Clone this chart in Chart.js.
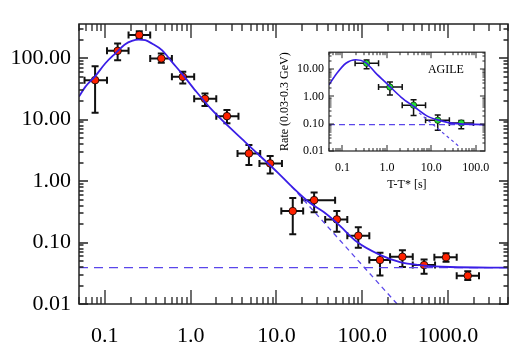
<!DOCTYPE html>
<html>
<head>
<meta charset="utf-8">
<script src="https://cdn.jsdelivr.net/npm/chart.js@4.4.1/dist/chart.umd.min.js"></script>
<style>
  body { margin: 0; background: #fff; }
  #wrap { position: relative; width: 531px; height: 354px; }
  #mainChart { position: absolute; left: 0; top: 0; }
  #agileChart { position: absolute; left: 260px; top: 40px; }
</style>
</head>
<body>
<div id="wrap">
  <canvas id="mainChart" width="531" height="354"></canvas>
  <canvas id="agileChart" width="240" height="160"></canvas>
</div>
<script>
// main panel data (T-T* in s, rate)
const mainT      = [0.077, 0.141, 0.252, 0.455, 0.81, 1.47, 2.65, 4.78, 8.45, 15.5, 27.5, 50.6, 90, 161, 294, 526, 948, 1698]
const mainRate   = [43.9, 131.6, 239, 98.9, 49.7, 21.8, 11.4, 2.82, 1.94, 0.325, 0.49, 0.238, 0.129, 0.052, 0.0587, 0.043, 0.0576, 0.0288]
const mainTLo    = [0.058, 0.106, 0.189, 0.338, 0.605, 1.10, 1.99, 3.52, 6.34, 11.4, 19.8, 37, 67, 121, 211, 388, 693, 1262]
const mainTHi    = [0.106, 0.189, 0.338, 0.605, 1.10, 1.99, 3.61, 6.47, 11.6, 20.5, 48.3, 67, 121, 211, 388, 706, 1262, 2296]
const mainRateLo = [12.9, 92.7, 209, 84, 38.8, 16.6, 8.7, 1.82, 1.33, 0.137, 0.31, 0.150, 0.082, 0.029, 0.040, 0.031, 0.0488, 0.0245]
const mainRateHi = [74, 173, 275, 119, 60, 26.7, 14.3, 3.85, 2.55, 0.53, 0.65, 0.325, 0.177, 0.068, 0.075, 0.053, 0.0667, 0.034]

// fit curve
const fitT    = [0.05, 0.0592, 0.0774, 0.101, 0.132, 0.173, 0.207, 0.247, 0.296, 0.354, 0.463, 0.605, 0.792, 1.13, 1.83, 4.33, 10.5, 14.5, 24.7, 35.3, 51, 86.5, 161, 276, 472, 1056, 5000]
const fitRate = [23.7, 34.1, 51, 82, 119, 169, 191, 201, 196, 173, 135, 87, 56, 30, 13.7, 4.3, 1.35, 0.86, 0.44, 0.317, 0.207, 0.103, 0.063, 0.048, 0.043, 0.040, 0.039]
const constT    = [0.05, 5000]
const constRate = [0.039, 0.039]
const powT    = [15, 255]
const powRate = [0.82, 0.01]

// inset (AGILE) data
const agileT      = [0.35, 1.17, 3.98, 13.9, 47]
const agileRate   = [16.5, 2.21, 0.48, 0.134, 0.106]
const agileTLo    = [0.193, 0.65, 2.21, 7.4, 25.4]
const agileTHi    = [0.65, 2.21, 7.4, 25.4, 88]
const agileRateLo = [10.3, 1.14, 0.20, 0.058, 0.065]
const agileRateHi = [21.6, 3.4, 0.75, 0.21, 0.13]

const agileFitT    = [0.05, 0.073, 0.12, 0.2, 0.33, 0.55, 1.07, 2.1, 4.1, 8.1, 15.8, 31, 160]
const agileFitRate = [2.65, 6.65, 16.5, 22.3, 17.9, 7.5, 2.65, 0.93, 0.42, 0.19, 0.13, 0.103, 0.093]
const agileConstT    = [0.05, 160]
const agileConstRate = [0.092, 0.092]
const agilePowT    = [5.3, 43.5]
const agilePowRate = [0.25, 0.014]

const mainXTicks = [0.1, 1, 10, 100, 1000]
const mainYTicks = [0.01, 0.1, 1, 10, 100]
const agileXTicks = [0.1, 1, 10, 100]
const agileYTicks = [0.01, 0.1, 1, 10]

const serif = "'Liberation Serif', 'DejaVu Serif', serif"
const lineBlue = '#3a1ee6'
const dashBlue = '#5a46ea'

const pts = (xs, ys) => xs.map((x, i) => ({x: x, y: ys[i]}))
const errPts = (t, r, tlo, thi, rlo, rhi) =>
  t.map((x, i) => ({x: x, y: r[i], xMin: tlo[i], xMax: thi[i], yMin: rlo[i], yMax: rhi[i]}))

function logMarks(min, max) {
  const out = []
  for (let k = Math.floor(Math.log10(min)); k <= Math.ceil(Math.log10(max)); k++) {
    for (let m = 1; m <= 9; m++) {
      const v = m * Math.pow(10, k)
      if (v >= min * 0.999 && v <= max * 1.001) out.push([v, m === 1])
    }
  }
  return out
}

// IDL style frame with inward ticks on all four sides
const frameTicks = {
  id: 'frameTicks',
  afterDraw(chart, args, o) {
    const {ctx, chartArea: a, scales: {x, y}} = chart
    ctx.save()
    ctx.strokeStyle = o.color
    ctx.lineWidth = o.lineWidth
    ctx.beginPath()
    logMarks(x.min, x.max).forEach(([v, major]) => {
      const px = Math.round(x.getPixelForValue(v))
      const len = major ? o.xMajor : o.xMinor
      ctx.moveTo(px, a.bottom); ctx.lineTo(px, a.bottom - len)
      ctx.moveTo(px, a.top); ctx.lineTo(px, a.top + len)
    })
    logMarks(y.min, y.max).forEach(([v, major]) => {
      const py = Math.round(y.getPixelForValue(v))
      const len = major ? o.yMajor : o.yMinor
      ctx.moveTo(a.left, py); ctx.lineTo(a.left + len, py)
      ctx.moveTo(a.right, py); ctx.lineTo(a.right - len, py)
    })
    ctx.stroke()
    ctx.lineWidth = o.frameWidth
    ctx.strokeRect(a.left, a.top, a.right - a.left, a.bottom - a.top)
    ctx.restore()
  }
}

const errorBars = {
  id: 'errorBars',
  beforeDatasetsDraw(chart) {
    const {ctx, scales: {x, y}} = chart
    chart.data.datasets.forEach(ds => {
      const e = ds.errorBars
      if (!e) return
      ctx.save()
      ctx.strokeStyle = e.color
      ctx.lineWidth = e.width
      ctx.beginPath()
      ds.data.forEach(p => {
        const px = x.getPixelForValue(p.x), py = y.getPixelForValue(p.y)
        const x0 = x.getPixelForValue(p.xMin), x1 = x.getPixelForValue(p.xMax)
        const y0 = y.getPixelForValue(p.yMin), y1 = y.getPixelForValue(p.yMax)
        ctx.moveTo(x0, py); ctx.lineTo(x1, py)
        ctx.moveTo(px, y0); ctx.lineTo(px, y1)
        ctx.moveTo(x0, py - e.cap); ctx.lineTo(x0, py + e.cap)
        ctx.moveTo(x1, py - e.cap); ctx.lineTo(x1, py + e.cap)
        ctx.moveTo(px - e.cap, y0); ctx.lineTo(px + e.cap, y0)
        ctx.moveTo(px - e.cap, y1); ctx.lineTo(px + e.cap, y1)
      })
      ctx.stroke()
      ctx.restore()
    })
  }
}

const agileLabel = {
  id: 'agileLabel',
  afterDraw(chart, args, o) {
    if (!o.text) return
    const {ctx, chartArea: a} = chart
    ctx.save()
    ctx.font = '12px ' + serif
    ctx.fillStyle = '#000'
    ctx.textAlign = 'center'
    ctx.textBaseline = 'middle'
    ctx.fillText(o.text, a.right - 39, a.top + 18)
    ctx.restore()
  }
}

function logAxis(min, max, ticks, digits, size, pad, fixSize, title) {
  return {
    type: 'logarithmic',
    min: min,
    max: max,
    grid: {display: false, drawTicks: false},
    border: {display: false},
    ticks: {
      font: {family: serif, size: size},
      color: '#000',
      padding: pad,
      autoSkip: false,
      maxRotation: 0,
      callback: v => Number(v).toFixed(digits)
    },
    title: title || {display: false},
    afterBuildTicks: s => { s.ticks = ticks.map(v => ({value: v})) },
    afterFit: fixSize
  }
}

new Chart(document.getElementById('mainChart'), {
  type: 'scatter',
  data: {
    datasets: [
      {
        data: pts(fitT, fitRate), showLine: true, pointRadius: 0,
        borderColor: lineBlue, borderWidth: 1.8, cubicInterpolationMode: 'monotone', order: 1
      },
      {
        data: pts(constT, constRate), showLine: true, pointRadius: 0,
        borderColor: dashBlue, borderWidth: 1.3, borderDash: [9, 6], order: 1
      },
      {
        data: pts(powT, powRate), showLine: true, pointRadius: 0,
        borderColor: dashBlue, borderWidth: 1.3, borderDash: [5, 4], order: 1
      },
      {
        data: errPts(mainT, mainRate, mainTLo, mainTHi, mainRateLo, mainRateHi),
        pointRadius: 3.8, pointBackgroundColor: '#ff2200', pointBorderColor: '#000',
        pointBorderWidth: 0.8, order: 2,
        errorBars: {color: '#111', width: 2, cap: 3.5}
      }
    ]
  },
  options: {
    responsive: false,
    animation: false,
    devicePixelRatio: 1,
    layout: {padding: {left: 0, right: 23, top: 24, bottom: 0}},
    plugins: {
      legend: {display: false},
      tooltip: {enabled: false},
      frameTicks: {color: '#222', lineWidth: 1.3, frameWidth: 1.5, xMajor: 14, xMinor: 7, yMajor: 9, yMinor: 4.5}
    },
    scales: {
      x: logAxis(0.05, 5000, mainXTicks, 1, 22, 19, s => { s.height = 50 }),
      y: logAxis(0.01, 360, mainYTicks, 2, 22, 8, s => { s.width = 79 })
    }
  },
  plugins: [errorBars, frameTicks]
})

new Chart(document.getElementById('agileChart'), {
  type: 'scatter',
  data: {
    datasets: [
      {
        data: pts(agileFitT, agileFitRate), showLine: true, pointRadius: 0,
        borderColor: lineBlue, borderWidth: 1.6, cubicInterpolationMode: 'monotone', order: 1
      },
      {
        data: pts(agileConstT, agileConstRate), showLine: true, pointRadius: 0,
        borderColor: dashBlue, borderWidth: 1.2, borderDash: [6, 4], order: 1
      },
      {
        data: pts(agilePowT, agilePowRate), showLine: true, pointRadius: 0,
        borderColor: dashBlue, borderWidth: 1.2, borderDash: [3, 3], order: 1
      },
      {
        data: errPts(agileT, agileRate, agileTLo, agileTHi, agileRateLo, agileRateHi),
        pointRadius: 3.2, pointBackgroundColor: '#22dd33', pointBorderColor: '#000',
        pointBorderWidth: 0.6, order: 2,
        errorBars: {color: '#111', width: 1.5, cap: 3}
      }
    ]
  },
  options: {
    responsive: false,
    animation: false,
    devicePixelRatio: 1,
    layout: {padding: {left: 0, right: 11, top: 5, bottom: 0}},
    plugins: {
      legend: {display: false},
      tooltip: {enabled: false},
      frameTicks: {color: '#222', lineWidth: 1, frameWidth: 1.2, xMajor: 6, xMinor: 3, yMajor: 5, yMinor: 2.5},
      agileLabel: {text: 'AGILE'}
    },
    scales: {
      x: logAxis(0.05, 160, agileXTicks, 1, 12, 10, s => { s.height = 49 },
        {display: true, text: 'T-T* [s]', color: '#000', font: {family: serif, size: 12}, padding: {top: 0, bottom: 8}}),
      y: logAxis(0.01, 42, agileYTicks, 2, 12, 5, s => { s.width = 69 },
        {display: true, text: 'Rate (0.03-0.3 GeV)', color: '#000', font: {family: serif, size: 12}, padding: {top: 18, bottom: 0}})
    }
  },
  plugins: [errorBars, frameTicks, agileLabel]
})
</script>
</body>
</html>
